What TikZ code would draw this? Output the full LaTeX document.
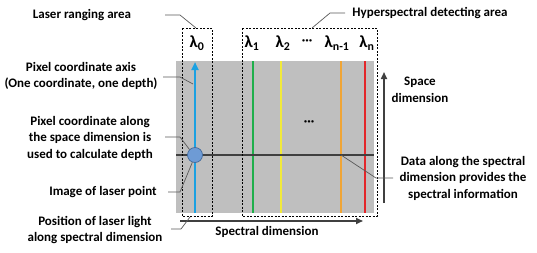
\documentclass[tikz,border=0pt]{standalone}
\usepackage{fontspec}
\setmainfont{Carlito}
\usetikzlibrary{arrows.meta}
\definecolor{bg}{HTML}{BFBFBF}
\definecolor{dark}{HTML}{404040}
\definecolor{leadc}{HTML}{595959}
\definecolor{laser}{HTML}{1BA1E2}
\definecolor{lgreen}{HTML}{1FAF4B}
\definecolor{lyellow}{HTML}{F2EA3A}
\definecolor{lorange}{HTML}{F0A536}
\definecolor{lred}{HTML}{E3262A}
\definecolor{spot}{HTML}{6E9BD5}
\definecolor{spotb}{HTML}{41699A}
\tikzset{
  every picture/.style={line join=round, >=Stealth},
  lbl/.style={font=\fontsize{13}{16.5}\selectfont\bfseries, align=center, inner sep=0pt},
  lam/.style={font=\fontsize{17}{18}\selectfont\bfseries, inner sep=0pt},
  lead/.style={line width=0.7pt, draw=leadc},
  area/.style={line width=0.8pt, dash pattern=on 2pt off 1.5pt},
  band/.style={line width=2pt},
  dim/.style={line width=1.6pt, draw=dark, -{Triangle[length=7pt,width=6pt]}},
}
\begin{document}
\begin{tikzpicture}[x=1pt,y=-1pt]
\useasboundingbox (0,0) rectangle (537,252);
% detector
\fill[bg] (176,61) rectangle (374,213);
\draw[band,lgreen] (253,61)--(253,213);
\draw[band,lyellow] (281,61)--(281,213);
\draw[band,lorange] (341,61)--(341,213);
\draw[band,lred] (365,61)--(365,213);
\draw[line width=2.5pt,dark] (176,155)--(374,155);
\draw[line width=2.2pt,laser,-{Triangle[length=8pt,width=7pt]}] (195,213)--(195,62);
\node[draw=spotb,fill=spot,circle,minimum size=15pt,inner sep=0pt,line width=0.7pt] (spot) at (195,155) {};
\node[lbl] (dots) at (309,123) {···};
% areas
\draw[area] (182,28) rectangle (212,216);
\draw[area] (242,28) rectangle (377,216);
% wavelengths
\node[lam] (l0) at (197,43) {λ\textsubscript{0}};
\node[lam] (l1) at (252,43) {λ\textsubscript{1}};
\node[lam] (l2) at (283,43) {λ\textsubscript{2}};
\node[lam] (ld) at (307,42) {\fontsize{13}{14}\selectfont···};
\node[lam] (ln1) at (337,43) {λ\textsubscript{n-1}};
\node[lam] (ln) at (367,43) {λ\textsubscript{n}};
% dimensions
\coordinate (sp0) at (180,221);
\coordinate (sp1) at (363,221);
\draw[dim] (sp0)--(sp1);
\node[lbl] (spec) at (267,232) {Spectral dimension};
\coordinate (sd0) at (384,203);
\coordinate (sd1) at (384,72);
\draw[dim] (sd0)--(sd1);
\node[lbl] (space) at (420,90) {Space\\dimension};
% labels
\node[lbl] (ranging) at (82,15) {Laser ranging area};
\node[lbl] (hyper) at (430,13) {Hyperspectral detecting area};
\node[lbl] (axis) at (81,76) {Pixel coordinate axis\\(One coordinate, one depth)};
\node[lbl] (along) at (90,138) {Pixel coordinate along\\the space dimension is\\used to calculate depth};
\node[lbl] (image) at (103,192) {Image of laser point};
\node[lbl] (position) at (95,230) {Position of laser light\\along spectral dimension};
\node[lbl] (data) at (463,178) {Data along the spectral\\dimension provides the\\spectral information};
% leaders
\coordinate (a1) at (196,28);
\coordinate (a2) at (312,28);
\coordinate (a3) at (193,84);
\coordinate (a4) at (341,155);
\coordinate (a5) at (190,217);
\draw[lead] (165,15)--(180,15)--(a1);
\draw[lead] (345,13)--(330,13)--(a2);
\draw[lead] (163,77)--(180,77)--(a3);
\draw[lead] (165,137)--(180,137)--(spot.135);
\draw[lead] (168,192)--(180,192)--(spot.250);
\draw[lead] (171,229)--(181,229)--(a5);
\draw[lead] (393,178)--(376,178)--(a4);
\end{tikzpicture}
\end{document}
